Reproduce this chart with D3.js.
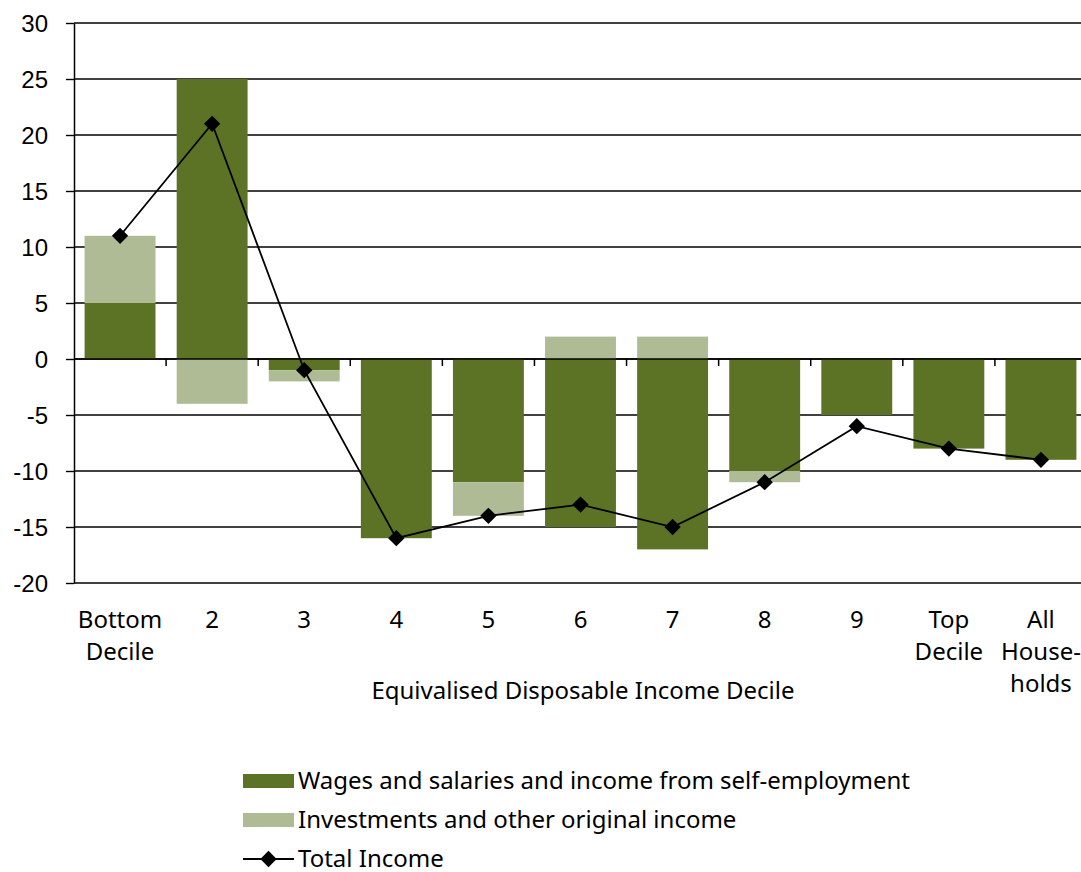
<!DOCTYPE html>
<html>
<head>
<meta charset="utf-8">
<script src="https://cdn.jsdelivr.net/npm/d3@7"></script>
<style>
  body { margin: 0; background: #fff; }
  svg { display: block; font-family: "Noto Sans", "Open Sans", sans-serif; }
</style>
</head>
<body>
<svg id="chart" width="1081" height="872"></svg>
<script>
// categories (two-line labels)
var deciles = ["Bottom|Decile", "2", "3", "4", "5", "6", "7", "8", "9", "Top|Decile", "All|House-|holds"]
var wages = [5, 25, -1, -16, -11, -15, -17, -10, -5, -8, -9]
var investments = [6, -4, -1, 0, -3, 2, 2, -1, 0, 0, 0]
var totalIncome = [11, 21, -1, -16, -14, -13, -15, -11, -6, -8, -9]
var yTicks = [-20, -15, -10, -5, 0, 5, 10, 15, 20, 25, 30]

var darkGreen = "#5c7326"
var lightGreen = "#aebb95"

var margin = { top: 23, left: 74 }
var plotW = 1013, plotH = 560

var svg = d3.select("#chart")
var g = svg.append("g").attr("transform", "translate(" + margin.left + "," + margin.top + ")")

var x = d3.scaleBand().domain(deciles).range([0, plotW]).paddingInner(0.23).paddingOuter(0.115)
var y = d3.scaleLinear().domain([-20, 30]).range([plotH, 0])

// gridlines
g.selectAll(".grid").data(yTicks).enter().append("line")
  .attr("x1", 0).attr("x2", plotW)
  .attr("y1", d => y(d)).attr("y2", d => y(d))
  .attr("stroke", "#000").attr("stroke-width", 1.4)

// stacked bars: wages from 0, investments stacked in their own direction
var bars = deciles.map(function (d, i) {
  var w = wages[i], v = investments[i]
  var base = (v >= 0) ? (w > 0 ? w : 0) : (w < 0 ? w : 0)
  return { cat: d, w: w, v0: base, v1: base + v }
})

g.selectAll(".wage").data(bars).enter().append("rect")
  .attr("x", d => x(d.cat)).attr("width", x.bandwidth())
  .attr("y", d => y(Math.max(0, d.w))).attr("height", d => Math.abs(y(d.w) - y(0)))
  .attr("fill", darkGreen)

g.selectAll(".inv").data(bars.filter(d => d.v1 !== d.v0)).enter().append("rect")
  .attr("x", d => x(d.cat)).attr("width", x.bandwidth())
  .attr("y", d => y(Math.max(d.v0, d.v1))).attr("height", d => Math.abs(y(d.v0) - y(d.v1)))
  .attr("fill", lightGreen)

// y axis
var yAxis = g.append("g").call(d3.axisLeft(y).tickValues(yTicks).tickFormat(d => String(d)).tickSize(8).tickSizeOuter(0))
yAxis.select(".domain").attr("stroke-width", 1.5)
yAxis.selectAll("line").attr("stroke-width", 1.4)
yAxis.selectAll("text").attr("font-size", 24).attr("fill", "#000").attr("x", -26).attr("dy", "0.35em")

// zero axis with category-boundary ticks
g.append("line").attr("x1", 0).attr("x2", plotW).attr("y1", y(0)).attr("y2", y(0))
  .attr("stroke", "#000").attr("stroke-width", 1.5)
var step = x.step()
g.selectAll(".xtick").data(d3.range(1, deciles.length)).enter().append("line")
  .attr("x1", d => d * step).attr("x2", d => d * step)
  .attr("y1", y(0)).attr("y2", y(0) + 7)
  .attr("stroke", "#000").attr("stroke-width", 1.5)

// category labels
var lab = g.selectAll(".xlab").data(deciles).enter().append("text")
  .attr("x", d => x(d) + x.bandwidth() / 2)
  .attr("y", plotH + 45)
  .attr("text-anchor", "middle").attr("font-size", 24).attr("fill", "#000")
lab.selectAll("tspan").data(d => d.split("|")).enter().append("tspan")
  .attr("x", function () { return d3.select(this.parentNode).attr("x") })
  .attr("dy", (d, i) => i === 0 ? 0 : 32)
  .text(d => d)

g.append("text").attr("x", 509).attr("y", plotH + 116)
  .attr("text-anchor", "middle").attr("font-size", 24).attr("fill", "#000")
  .text("Equivalised Disposable Income Decile")

// total income line
var pts = deciles.map((d, i) => [x(d) + x.bandwidth() / 2, y(totalIncome[i])])
g.append("path").datum(pts)
  .attr("fill", "none").attr("stroke", "#000").attr("stroke-width", 1.8)
  .attr("d", d3.line())
var diamond = d3.symbol().type(d3.symbolDiamond2).size(170)
g.selectAll(".mk").data(pts).enter().append("path")
  .attr("d", diamond)
  .attr("transform", d => "translate(" + d[0] + "," + d[1] + ")")
  .attr("fill", "#000")

// legend
var legend = svg.append("g").attr("transform", "translate(243,781)")
var legendItems = ["Wages and salaries and income from self-employment", "Investments and other original income", "Total Income"]
legendItems.forEach(function (name, i) {
  var row = legend.append("g").attr("transform", "translate(0," + (i * 39) + ")")
  if (i < 2) {
    row.append("rect").attr("x", 0).attr("y", -7).attr("width", 51).attr("height", 14)
      .attr("fill", i === 0 ? darkGreen : lightGreen)
  } else {
    row.append("line").attr("x1", 0).attr("x2", 51).attr("y1", 0).attr("y2", 0)
      .attr("stroke", "#000").attr("stroke-width", 1.8)
    row.append("path").attr("d", diamond).attr("transform", "translate(25.5,0)").attr("fill", "#000")
  }
  row.append("text").attr("x", 55).attr("y", 0).attr("dy", "0.35em")
    .attr("font-size", 24).attr("fill", "#000").text(name)
})
</script>
</body>
</html>
